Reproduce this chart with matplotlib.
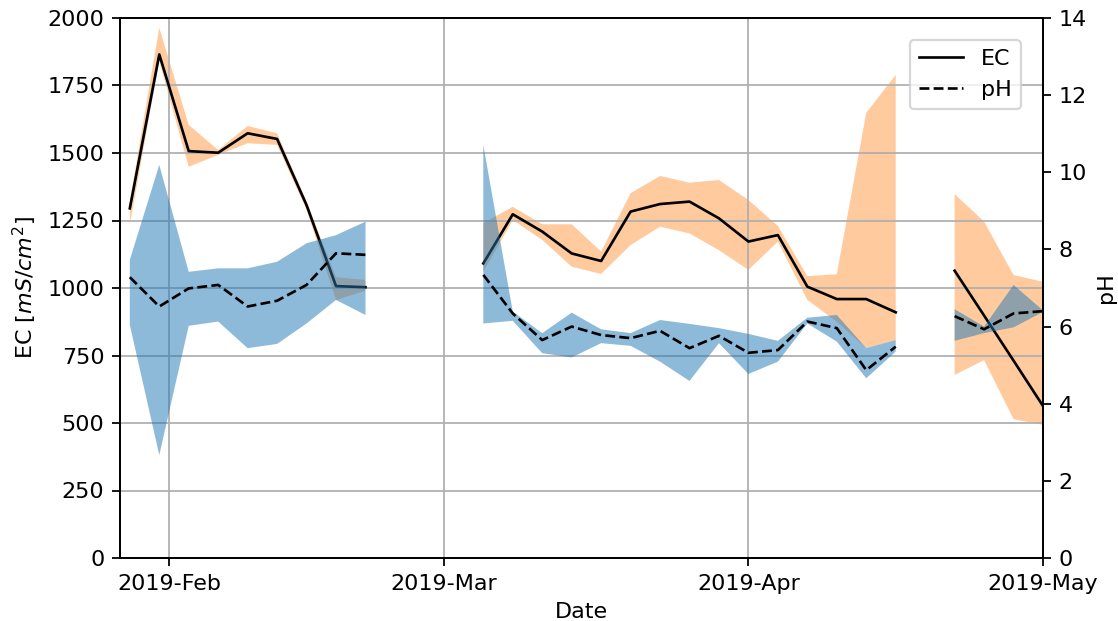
#!/usr/bin/env python3
# -*- coding: utf-8 -*-
"""
Plot EC and pH time series with their min/max envelopes on twin axes
"""

import numpy as np
import pandas as pd
import matplotlib
matplotlib.use('Agg')
import matplotlib.pyplot as plt
import matplotlib.dates as mdates

nan = np.nan

# sampling every 3 days, missing samples are NaN
dates = pd.date_range('2019-01-28', '2019-05-01', freq='3D')

ec = [1295, 1865, 1507, 1501, 1573, 1552, 1307, 1007, 1003,
      nan, nan, nan,
      1091, 1273, 1209, 1128, 1100, 1283, 1311, 1320, 1258, 1172, 1196,
      1005, 959, 959, 910,
      nan,
      1064, 898, 731, 563]
ec_lo = [1235, 1840, 1449, 1493, 1536, 1530, 1290, 955, 990,
         nan, nan, nan,
         1060, 1252, 1178, 1079, 1052, 1159, 1227, 1202, 1140, 1067, 1172,
         956, 875, 777, 807,
         nan,
         678, 733, 514, 493]
ec_hi = [1320, 1964, 1604, 1511, 1600, 1573, 1320, 1040, 1030,
         nan, nan, nan,
         1240, 1301, 1236, 1236, 1135, 1351, 1415, 1390, 1400, 1326, 1230,
         1044, 1051, 1649, 1789,
         nan,
         1348, 1246, 1048, 1023]

ph = [7.28, 6.52, 6.99, 7.08, 6.52, 6.67, 7.08, 7.90, 7.86,
      nan, nan, nan,
      7.34, 6.34, 5.65, 6.00, 5.78, 5.70, 5.89, 5.44, 5.76, 5.32, 5.39,
      6.13, 5.96, 4.87, 5.48,
      nan,
      6.27, 5.93, 6.34, 6.40]
ph_lo = [6.04, 2.67, 6.02, 6.13, 5.44, 5.55, 6.08, 6.69, 6.30,
         nan, nan, nan,
         6.08, 6.15, 5.31, 5.20, 5.57, 5.50, 5.09, 4.59, 5.57, 4.77, 5.09,
         6.08, 5.61, 4.66, 5.35,
         nan,
         5.63, 5.83, 5.98, 6.38]
ph_hi = [7.73, 10.19, 7.42, 7.51, 7.51, 7.68, 8.16, 8.37, 8.72,
         nan, nan, nan,
         10.71, 6.39, 5.83, 6.36, 5.93, 5.83, 6.17, 6.07, 5.96, 5.81, 5.63,
         6.23, 6.30, 5.44, 5.65,
         nan,
         6.45, 6.00, 7.08, 6.42]

fig = plt.figure(figsize=(1118 / 160, 621 / 160), dpi=160)
ax1 = fig.add_subplot(111)
fig.subplots_adjust(left=120 / 1118, right=1043 / 1118,
                    top=1 - 18 / 621, bottom=1 - 558 / 621)

# EC on the left axis
ax1.fill_between(dates, ec_lo, ec_hi, color='C1', alpha=0.4, lw=0)
l_ec, = ax1.plot(dates, ec, color='k', lw=1.2, label='EC')
ax1.set_ylim(0, 2000)
ax1.set_yticks(np.arange(0, 2001, 250))
ax1.set_ylabel('EC [$mS/cm^2$]')
ax1.set_xlabel('Date')
ax1.grid(True)

# pH on the right axis
ax2 = ax1.twinx()
ax2.fill_between(dates, ph_lo, ph_hi, color='C0', alpha=0.5, lw=0)
l_ph, = ax2.plot(dates, ph, color='k', ls='--', lw=1.2, label='pH')
ax2.set_ylim(0, 14)
ax2.set_yticks(np.arange(0, 15, 2))
ax2.set_ylabel('pH')

ax1.set_xlim(pd.Timestamp('2019-01-27'), pd.Timestamp('2019-05-01'))
ax1.xaxis.set_major_locator(mdates.MonthLocator())
ax1.xaxis.set_major_formatter(mdates.DateFormatter('%Y-%b'))

ax2.legend(handles=[l_ec, l_ph], loc='upper right', borderaxespad=1.0)

fig.savefig('out.png', dpi=160)
